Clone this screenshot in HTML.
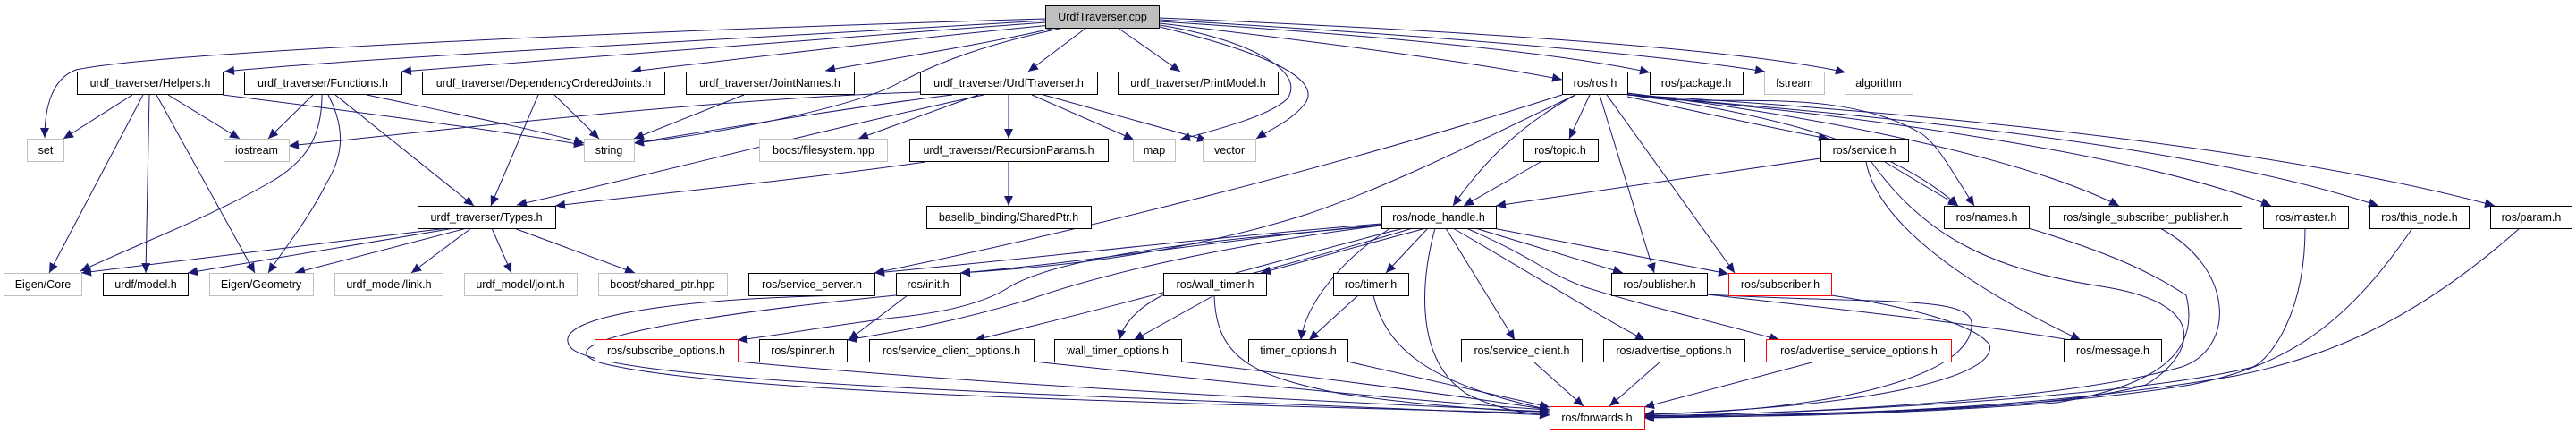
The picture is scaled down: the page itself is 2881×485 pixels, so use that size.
<!DOCTYPE html>
<html><head><meta charset="utf-8"><style>
html,body{margin:0;padding:0;background:#fff}
svg{display:block}
text{font-family:"Liberation Sans",Arial,sans-serif;font-size:12.5px;fill:#000;text-anchor:middle}
.e{fill:none;stroke:#191970;stroke-width:1}
.n{fill:#fff;stroke:#000;stroke-width:1}
.g{fill:#fff;stroke:#bfbfbf;stroke-width:1}
.r{fill:#fff;stroke:#ff0000;stroke-width:1}
</style></head><body>
<svg width="2881" height="485" viewBox="0 0 2881 485" xmlns="http://www.w3.org/2000/svg">
<defs><marker id="a" markerUnits="userSpaceOnUse" markerWidth="12" markerHeight="10" refX="11" refY="5" orient="auto"><path d="M0,0 L11,5 L0,10 z" fill="#191970"/></marker></defs>
<g class="e" marker-end="url(#a)">
<!-- root edges -->
<path d="M1169,21 C700,35 180,58 85,78 C58,88 50,120 50,154"/>
<path d="M1169,23 C800,45 400,65 251,80"/>
<path d="M1169,25 C900,45 600,68 449,80"/>
<path d="M1175,28 C1000,45 850,63 706,80"/>
<path d="M1180,31 C1100,50 1000,65 923,79"/>
<path d="M1185,32 C1100,50 1050,70 1010,90 C960,120 800,150 709,160"/>
<path d="M1215,31 L1150,80"/>
<path d="M1250,31 L1320,80"/>
<path d="M1297,28 C1400,45 1460,80 1440,110 C1420,130 1360,145 1320,156"/>
<path d="M1297,30 C1400,55 1480,85 1460,115 C1445,135 1420,145 1405,155"/>
<path d="M1297,26 C1500,50 1650,70 1747,89"/>
<path d="M1297,24 C1550,40 1750,60 1845,81"/>
<path d="M1297,22 C1600,40 1850,60 1974,80"/>
<path d="M1297,20 C1650,35 1950,55 2064,81"/>
<!-- Helpers -->
<path d="M148,106 L71,155"/>
<path d="M188,106 L268,155"/>
<path d="M249,106 C400,125 550,145 653,162"/>
<path d="M160,106 L55,305"/>
<path d="M167,106 L163,305"/>
<path d="M175,106 L285,305"/>
<!-- Functions -->
<path d="M350,106 L300,155"/>
<path d="M360,106 C360,150 345,180 300,205 C230,245 160,270 90,303"/>
<path d="M367,106 C390,150 380,180 365,205 C345,245 320,275 300,305"/>
<path d="M375,106 L530,230"/>
<path d="M410,106 C500,125 600,145 653,160"/>
<!-- DependencyOrderedJoints -->
<path d="M620,106 L670,155"/>
<path d="M602,106 L549,230"/>
<!-- JointNames -->
<path d="M832,106 L709,155"/>
<!-- UrdfTraverser.h -->
<path d="M1029,103 C800,110 500,145 323,163"/>
<path d="M1065,106 C950,120 800,145 709,160"/>
<path d="M1094,106 L960,155"/>
<path d="M1128,106 L1128,155"/>
<path d="M1154,106 L1268,156"/>
<path d="M1167,106 L1350,157"/>
<path d="M1100,106 C900,150 750,190 578,229"/>
<!-- RecursionParams -->
<path d="M1035,181 C900,200 750,215 621,230"/>
<path d="M1128,181 L1128,230"/>
<!-- Types -->
<path d="M500,255 L91,305"/>
<path d="M508,255 L210,305"/>
<path d="M522,255 L330,305"/>
<path d="M527,255 L460,305"/>
<path d="M550,255 L572,305"/>
<path d="M575,255 L710,305"/>
<!-- ros.h -->
<path d="M1747,106 C1500,185 1200,260 978,305"/>
<path d="M1762,106 C1650,160 1550,210 1460,240 C1300,290 1150,300 1074,305"/>
<path d="M1762,106 C1700,140 1660,180 1625,230"/>
<path d="M1778,106 L1755,155"/>
<path d="M1789,106 L1850,305"/>
<path d="M1797,106 L1940,305"/>
<path d="M1820,108 C1900,125 1990,145 2045,155"/>
<path d="M1820,105 C1900,125 2050,90 2150,150 C2170,165 2185,195 2208,230"/>
<path d="M1820,104 C1950,125 2100,150 2190,230"/>
<path d="M1820,104 C2000,125 2250,170 2370,230"/>
<path d="M1820,106 C2100,130 2400,175 2540,230"/>
<path d="M1820,106 C2100,130 2450,160 2660,230"/>
<path d="M1820,106 C2150,125 2550,165 2790,230"/>
<!-- topic -->
<path d="M1723,181 L1637,230"/>
<!-- service -->
<path d="M2036,177 L1673,230"/>
<path d="M2108,181 L2190,230"/>
<path d="M2087,181 C2100,250 2200,320 2327,380"/>
<path d="M2093,181 C2150,260 2220,300 2350,320 C2480,340 2450,400 2400,430 C2300,460 2000,465 1839,464"/>
<!-- right nodes to forwards -->
<path d="M2269,255 C2350,280 2400,300 2445,330 C2460,390 2420,430 2300,450 C2100,465 1950,466 1839,466"/>
<path d="M2416,255 C2500,300 2500,390 2440,410 C2300,450 2000,462 1839,465"/>
<path d="M2578,255 C2578,350 2540,400 2520,410 C2400,440 2100,460 1839,465"/>
<path d="M2698,255 C2620,370 2550,410 2450,430 C2300,455 2100,462 1839,466"/>
<path d="M2818,255 C2700,360 2600,400 2500,420 C2300,455 2050,465 1839,467"/>
<!-- node_handle -->
<path d="M1545,250 C1300,270 1150,290 978,305"/>
<path d="M1545,251 C1350,270 1200,295 1074,305"/>
<path d="M1545,252 C1400,265 1200,280 1130,320 C1100,340 1050,350 1000,355 C920,365 870,375 825,380"/>
<path d="M1545,252 C1400,270 1250,300 1150,335 C1050,365 990,372 947,380"/>
<path d="M1570,255 C1450,285 1300,330 1090,380"/>
<path d="M1580,255 C1480,285 1350,320 1300,330 C1270,345 1255,365 1252,380"/>
<path d="M1595,255 C1500,280 1450,295 1410,305"/>
<path d="M1597,255 L1550,305"/>
<path d="M1555,255 C1500,290 1460,340 1455,380"/>
<path d="M1605,255 C1590,310 1580,400 1640,440 C1680,460 1710,462 1733,464"/>
<path d="M1617,255 L1694,380"/>
<path d="M1625,255 C1720,310 1800,360 1840,380"/>
<path d="M1640,255 C1720,290 1720,300 1770,320 C1850,345 1920,360 1990,380"/>
<path d="M1650,255 L1815,305"/>
<path d="M1670,255 L1933,306"/>
<!-- level 4/5 to forwards etc. -->
<path d="M978,330 C800,330 600,350 640,390 C690,430 1200,440 1733,464"/>
<path d="M1002,330 C800,350 600,380 670,405 C800,440 1300,450 1733,462"/>
<path d="M1015,330 L949,380"/>
<path d="M825,404 C1100,430 1500,450 1733,460"/>
<path d="M1156,404 C1400,430 1600,450 1733,458"/>
<path d="M1358,330 L1268,380"/>
<path d="M1358,330 C1360,400 1400,420 1500,440 C1600,455 1700,460 1733,460"/>
<path d="M1321,404 C1500,425 1650,445 1733,458"/>
<path d="M1519,330 L1464,380"/>
<path d="M1536,330 C1550,390 1600,430 1733,458"/>
<path d="M1507,404 L1733,455"/>
<path d="M1715,404 L1771,454"/>
<path d="M1857,404 L1800,454"/>
<path d="M2030,404 L1839,455"/>
<path d="M1909,329 C2050,345 2200,360 2327,382"/>
<path d="M1909,329 C2100,340 2200,330 2205,360 C2210,420 2050,460 1839,463"/>
<path d="M2048,330 C2150,345 2210,365 2225,385 C2235,420 2100,455 1839,463"/>
</g>
<g>
<rect x="1169.5" y="6.5" width="127" height="25" fill="#bfbfbf" stroke="#000"/><text x="1233" y="23">UrdfTraverser.cpp</text>
<rect class="n" x="86.5" y="80.5" width="163" height="25"/><text x="168" y="97">urdf_traverser/Helpers.h</text>
<rect class="n" x="273.5" y="80.5" width="176" height="25"/><text x="361" y="97">urdf_traverser/Functions.h</text>
<rect class="n" x="472.5" y="80.5" width="271" height="25"/><text x="608" y="97">urdf_traverser/DependencyOrderedJoints.h</text>
<rect class="n" x="767.5" y="80.5" width="188" height="25"/><text x="861" y="97">urdf_traverser/JointNames.h</text>
<rect class="n" x="1029.5" y="80.5" width="198" height="25"/><text x="1128" y="97">urdf_traverser/UrdfTraverser.h</text>
<rect class="n" x="1250.5" y="80.5" width="179" height="25"/><text x="1340" y="97">urdf_traverser/PrintModel.h</text>
<rect class="n" x="1747.5" y="80.5" width="73" height="25"/><text x="1784" y="97">ros/ros.h</text>
<rect class="n" x="1845.5" y="80.5" width="104" height="25"/><text x="1897" y="97">ros/package.h</text>
<rect class="g" x="1973.5" y="80.5" width="67" height="25"/><text x="2007" y="97">fstream</text>
<rect class="g" x="2063.5" y="80.5" width="76" height="25"/><text x="2101" y="97">algorithm</text>

<rect class="g" x="30.5" y="155.5" width="41" height="25"/><text x="51" y="172">set</text>
<rect class="g" x="250.5" y="155.5" width="73" height="25"/><text x="287" y="172">iostream</text>
<rect class="g" x="653.5" y="155.5" width="56" height="25"/><text x="681" y="172">string</text>
<rect class="g" x="849.5" y="155.5" width="143" height="25"/><text x="921" y="172">boost/filesystem.hpp</text>
<rect class="n" x="1017.5" y="155.5" width="222" height="25"/><text x="1128" y="172">urdf_traverser/RecursionParams.h</text>
<rect class="g" x="1267.5" y="155.5" width="47" height="25"/><text x="1291" y="172">map</text>
<rect class="g" x="1345.5" y="155.5" width="59" height="25"/><text x="1375" y="172">vector</text>
<rect class="n" x="1703.5" y="155.5" width="84" height="25"/><text x="1745" y="172">ros/topic.h</text>
<rect class="n" x="2036.5" y="155.5" width="98" height="25"/><text x="2085" y="172">ros/service.h</text>

<rect class="n" x="467.5" y="230.5" width="154" height="25"/><text x="544" y="247">urdf_traverser/Types.h</text>
<rect class="n" x="1036.5" y="230.5" width="184" height="25"/><text x="1128" y="247">baselib_binding/SharedPtr.h</text>
<rect class="n" x="1545.5" y="230.5" width="128" height="25"/><text x="1609" y="247">ros/node_handle.h</text>
<rect class="n" x="2174.5" y="230.5" width="95" height="25"/><text x="2222" y="247">ros/names.h</text>
<rect class="n" x="2292.5" y="230.5" width="215" height="25"/><text x="2400" y="247">ros/single_subscriber_publisher.h</text>
<rect class="n" x="2531.5" y="230.5" width="95" height="25"/><text x="2579" y="247">ros/master.h</text>
<rect class="n" x="2650.5" y="230.5" width="111" height="25"/><text x="2706" y="247">ros/this_node.h</text>
<rect class="n" x="2785.5" y="230.5" width="91" height="25"/><text x="2831" y="247">ros/param.h</text>

<rect class="g" x="4.5" y="305.5" width="87" height="25"/><text x="48" y="322">Eigen/Core</text>
<rect class="n" x="115.5" y="305.5" width="95" height="25"/><text x="163" y="322">urdf/model.h</text>
<rect class="g" x="234.5" y="305.5" width="116" height="25"/><text x="292" y="322">Eigen/Geometry</text>
<rect class="g" x="374.5" y="305.5" width="121" height="25"/><text x="435" y="322">urdf_model/link.h</text>
<rect class="g" x="519.5" y="305.5" width="126" height="25"/><text x="582" y="322">urdf_model/joint.h</text>
<rect class="g" x="669.5" y="305.5" width="144" height="25"/><text x="741" y="322">boost/shared_ptr.hpp</text>
<rect class="n" x="837.5" y="305.5" width="141" height="25"/><text x="908" y="322">ros/service_server.h</text>
<rect class="n" x="1002.5" y="305.5" width="72" height="25"/><text x="1038" y="322">ros/init.h</text>
<rect class="n" x="1301.5" y="305.5" width="115" height="25"/><text x="1359" y="322">ros/wall_timer.h</text>
<rect class="n" x="1491.5" y="305.5" width="84" height="25"/><text x="1533" y="322">ros/timer.h</text>
<rect class="n" x="1802.5" y="305.5" width="107" height="25"/><text x="1856" y="322">ros/publisher.h</text>
<rect class="r" x="1933.5" y="305.5" width="115" height="25"/><text x="1991" y="322">ros/subscriber.h</text>

<rect class="r" x="665.5" y="379.5" width="160" height="25"/><text x="745" y="396">ros/subscribe_options.h</text>
<rect class="n" x="849.5" y="379.5" width="98" height="25"/><text x="898" y="396">ros/spinner.h</text>
<rect class="n" x="972.5" y="379.5" width="184" height="25"/><text x="1064" y="396">ros/service_client_options.h</text>
<rect class="n" x="1179.5" y="379.5" width="142" height="25"/><text x="1250" y="396">wall_timer_options.h</text>
<rect class="n" x="1396.5" y="379.5" width="111" height="25"/><text x="1452" y="396">timer_options.h</text>
<rect class="n" x="1634.5" y="379.5" width="135" height="25"/><text x="1702" y="396">ros/service_client.h</text>
<rect class="n" x="1793.5" y="379.5" width="158" height="25"/><text x="1872" y="396">ros/advertise_options.h</text>
<rect class="r" x="1975.5" y="379.5" width="207" height="25"/><text x="2079" y="396">ros/advertise_service_options.h</text>
<rect class="n" x="2308.5" y="379.5" width="109" height="25"/><text x="2363" y="396">ros/message.h</text>

<rect class="r" x="1733.5" y="454.5" width="106" height="25"/><text x="1786" y="471">ros/forwards.h</text>
</g>
</svg>
</body></html>
